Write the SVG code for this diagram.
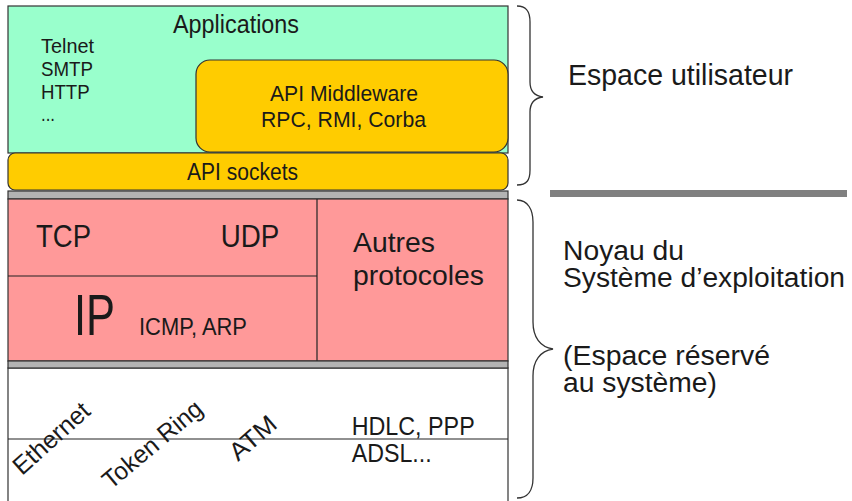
<svg xmlns="http://www.w3.org/2000/svg" width="852" height="501" viewBox="0 0 852 501">
<style>
text{font-family:"Liberation Sans",Arial,sans-serif;fill:#1a1a1a}
.box{stroke:#333;stroke-width:1.2}
.sep{fill:#b3b3b3;stroke:#333;stroke-width:1.2}
.ln{stroke:#222;stroke-width:1.2;fill:none}
.brace{stroke:#333;stroke-width:1.3;fill:none}
</style>
<rect width="852" height="501" fill="#ffffff"/>

<g id="link-layer">
<rect x="8" y="368" width="500" height="140" fill="#ffffff" class="box"/>
<line x1="8" y1="439" x2="508" y2="439" class="ln"/>
<text transform="translate(22,476) rotate(-42)" font-size="25" textLength="94" lengthAdjust="spacingAndGlyphs">Ethernet</text>
<text transform="translate(111,490) rotate(-40)" font-size="25" textLength="122" lengthAdjust="spacingAndGlyphs">Token Ring</text>
<text transform="translate(238,462) rotate(-41)" font-size="25" textLength="54" lengthAdjust="spacingAndGlyphs">ATM</text>
<text x="351.7" y="435" font-size="26" textLength="123" lengthAdjust="spacingAndGlyphs">HDLC, PPP</text>
<text x="351.7" y="461.7" font-size="26" textLength="80" lengthAdjust="spacingAndGlyphs">ADSL...</text>
</g>

<g id="applications">
<rect x="8" y="6" width="500" height="147" fill="#99ffcc" class="box"/>
<text x="173" y="33" font-size="26" textLength="126" lengthAdjust="spacingAndGlyphs">Applications</text>
<text x="41" y="53.3" font-size="21" textLength="53" lengthAdjust="spacingAndGlyphs">Telnet</text>
<text x="41" y="76" font-size="21" textLength="52" lengthAdjust="spacingAndGlyphs">SMTP</text>
<text x="41" y="98.5" font-size="21" textLength="48.7" lengthAdjust="spacingAndGlyphs">HTTP</text>
<text x="41" y="121" font-size="21" textLength="14" lengthAdjust="spacingAndGlyphs">...</text>
</g>

<g id="api-middleware">
<rect x="196" y="60" width="312" height="92" rx="14" fill="#ffcc00" class="box"/>
<text x="270" y="101" font-size="22" textLength="148" lengthAdjust="spacingAndGlyphs">API Middleware</text>
<text x="261" y="126.7" font-size="22" textLength="165" lengthAdjust="spacingAndGlyphs">RPC, RMI, Corba</text>
</g>

<g id="api-sockets">
<rect x="8" y="153" width="500" height="37" rx="7" fill="#ffcc00" class="box"/>
<text x="187" y="180" font-size="23" textLength="111" lengthAdjust="spacingAndGlyphs">API sockets</text>
</g>

<g id="separator-user-kernel">
<rect x="8" y="191" width="500" height="8" class="sep"/>
</g>

<g id="kernel-protocols">
<rect x="8" y="199" width="500" height="162" fill="#ff9999" class="box"/>
<line x1="317" y1="199" x2="317" y2="361" class="ln"/>
<line x1="8" y1="276" x2="317" y2="276" class="ln"/>
<text x="36" y="246.7" font-size="31" textLength="55" lengthAdjust="spacingAndGlyphs">TCP</text>
<text x="220.7" y="246.7" font-size="31" textLength="58.6" lengthAdjust="spacingAndGlyphs">UDP</text>
<text x="353" y="251.7" font-size="28" textLength="82" lengthAdjust="spacingAndGlyphs">Autres</text>
<text x="353" y="285" font-size="28" textLength="131" lengthAdjust="spacingAndGlyphs">protocoles</text>
<text x="74" y="335" font-size="58" textLength="41" lengthAdjust="spacingAndGlyphs">IP</text>
<text x="139" y="335" font-size="23.5" textLength="108" lengthAdjust="spacingAndGlyphs">ICMP, ARP</text>
</g>

<g id="separator-drivers">
<rect x="8" y="361" width="500" height="7" class="sep"/>
</g>

<g id="user-space-label">
<path class="brace" d="M517,6 C527,6 530,12 530,22 L530,82 C530,91 535,96 543,97 C535,98 530,103 530,112 L530,170 C530,180 527,185 517,185"/>
<text x="568" y="85" font-size="30" textLength="225" lengthAdjust="spacingAndGlyphs">Espace utilisateur</text>
</g>

<g id="boundary-line">
<rect x="550" y="190" width="297" height="7" fill="#808080"/>
</g>

<g id="kernel-space-label">
<path class="brace" d="M517,200 C528,200 533,210 533,222 L533,322 C533,337 540,347 553,349 C540,351 533,361 533,376 L533,478 C533,490 528,498 517,498"/>
<text x="563" y="260" font-size="27" textLength="121" lengthAdjust="spacingAndGlyphs">Noyau du</text>
<text x="563" y="286.7" font-size="27" textLength="282" lengthAdjust="spacingAndGlyphs">Système d’exploitation</text>
<text x="563" y="365" font-size="27" textLength="207" lengthAdjust="spacingAndGlyphs">(Espace réservé</text>
<text x="563" y="392" font-size="27" textLength="154" lengthAdjust="spacingAndGlyphs">au système)</text>
</g>
</svg>
